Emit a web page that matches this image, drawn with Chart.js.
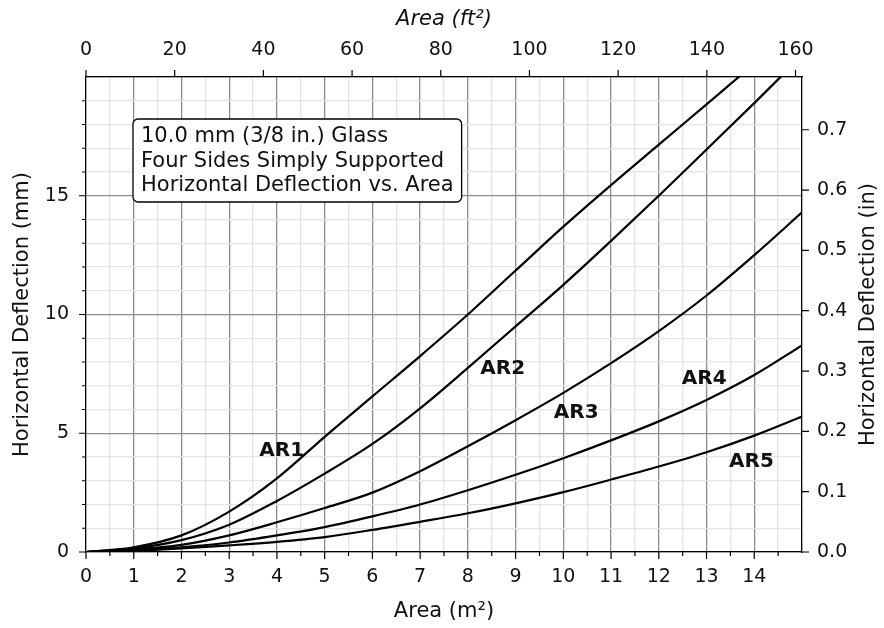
<!DOCTYPE html>
<html>
<head>
<meta charset="utf-8">
<title>Horizontal Deflection vs. Area</title>
<script src="https://cdn.jsdelivr.net/npm/chart.js@4.4.1/dist/chart.umd.min.js"></script>
<style>
  html, body { margin: 0; padding: 0; background: #fff; }
  #wrap { width: 884px; height: 628px; }
</style>
</head>
<body>
<div id="wrap"><canvas id="deflectionChart" width="884" height="628"></canvas></div>
<script>
// values (area in m2, deflection in mm)
const areaM2 = [0, 1, 2, 3, 4, 5, 6, 7, 8, 9, 10, 11, 12, 13, 14, 15];
const ar1 = [0, 0.2, 0.7, 1.7, 3.1, 4.85, 6.55, 8.25, 10.0, 11.85, 13.7, 15.45, 17.15, 18.85, 20.55, 22.2];
const ar2 = [0, 0.15, 0.5, 1.15, 2.15, 3.3, 4.55, 6.05, 7.75, 9.5, 11.25, 13.1, 15.0, 16.95, 18.9, 20.9];
const ar3 = [0, 0.1, 0.3, 0.7, 1.25, 1.85, 2.5, 3.4, 4.45, 5.55, 6.7, 7.95, 9.3, 10.8, 12.5, 14.3];
const ar4 = [0, 0.07, 0.2, 0.4, 0.7, 1.05, 1.5, 2.0, 2.6, 3.25, 3.95, 4.7, 5.5, 6.4, 7.45, 8.7];
const ar5 = [0, 0.05, 0.15, 0.28, 0.43, 0.63, 0.93, 1.27, 1.63, 2.05, 2.52, 3.05, 3.6, 4.2, 4.9, 5.7];

// curve labels and where they sit (data units)
const curveNames = ['AR1', 'AR2', 'AR3', 'AR4', 'AR5'];
const labelArea = [4.1, 8.73, 10.27, 12.95, 13.94];
const labelDefl = [4.25, 7.7, 5.85, 7.28, 3.79];

const boxLines = ['10.0 mm (3/8 in.) Glass', 'Four Sides Simply Supported', 'Horizontal Deflection vs. Area'];

const M2_TO_FT2 = 10.7639;
const MM_PER_IN = 25.4;
const X_MAX = 15;
const Y_MAX = 20;

const FONT = 'DejaVu Sans';
const TICK_SIZE = 19;
const TITLE_SIZE = 21;
const MAJOR_GRID = '#8c8c8c';
const MINOR_GRID = '#e4e4e4';

Chart.defaults.font.family = FONT;
Chart.defaults.font.size = TICK_SIZE;
Chart.defaults.color = '#111';

function toPoints(ys) {
  return areaM2.map((a, i) => ({ x: a, y: ys[i] }));
}

const series = [ar1, ar2, ar3, ar4, ar5];

// tick marks (long for major, short for minor) drawn from the scales
const tickMarks = {
  id: 'tickMarks',
  afterDraw(chart) {
    const { ctx } = chart;
    const { x, x2, y, y2 } = chart.scales;
    ctx.save();
    ctx.strokeStyle = '#000';
    ctx.lineWidth = 1.2;
    ctx.beginPath();
    x.ticks.forEach(t => {
      if (t.value >= X_MAX) return;
      const px = x.getPixelForValue(t.value);
      const len = Number.isInteger(t.value) ? 7 : 4;
      ctx.moveTo(px, x.top); ctx.lineTo(px, x.top + len);
    });
    x2.ticks.forEach(t => {
      const px = x2.getPixelForValue(t.value);
      ctx.moveTo(px, x2.bottom); ctx.lineTo(px, x2.bottom - 7);
    });
    y.ticks.forEach(t => {
      if (t.value >= Y_MAX) return;
      const py = y.getPixelForValue(t.value);
      const len = t.value % 5 === 0 ? 7 : 4;
      ctx.moveTo(y.right, py); ctx.lineTo(y.right - len, py);
    });
    y2.ticks.forEach(t => {
      const py = y2.getPixelForValue(t.value);
      ctx.moveTo(y2.left, py); ctx.lineTo(y2.left + 7, py);
    });
    ctx.stroke();

    // right axis title, reading upwards like the left one
    ctx.fillStyle = '#111';
    ctx.font = TITLE_SIZE + 'px "' + FONT + '"';
    ctx.textAlign = 'center';
    ctx.textBaseline = 'middle';
    ctx.translate(y2.right - 15, (chart.chartArea.top + chart.chartArea.bottom) / 2);
    ctx.rotate(-Math.PI / 2);
    ctx.fillText('Horizontal Deflection (in)', 0, 0);
    ctx.restore();
  }
};

// curve labels and the info box
const annotations = {
  id: 'annotations',
  afterDatasetsDraw(chart) {
    const { ctx, chartArea } = chart;
    const { x, y } = chart.scales;
    ctx.save();
    ctx.fillStyle = '#111';
    ctx.font = 'bold 20px "' + FONT + '"';
    ctx.textAlign = 'center';
    ctx.textBaseline = 'middle';
    curveNames.forEach((name, i) => {
      ctx.fillText(name, x.getPixelForValue(labelArea[i]), y.getPixelForValue(labelDefl[i]));
    });

    ctx.font = TITLE_SIZE + 'px "' + FONT + '"';
    const widths = boxLines.map(s => ctx.measureText(s).width);
    const bx = chartArea.left + 47;
    const by = chartArea.top + 42;
    const bw = Math.max(...widths) + 16;
    const bh = 83;
    ctx.beginPath();
    ctx.roundRect(bx, by, bw, bh, 5);
    ctx.fillStyle = '#fff';
    ctx.fill();
    ctx.strokeStyle = '#000';
    ctx.lineWidth = 1.3;
    ctx.stroke();
    ctx.fillStyle = '#111';
    ctx.textAlign = 'left';
    ctx.textBaseline = 'alphabetic';
    boxLines.forEach((s, i) => ctx.fillText(s, bx + 8, by + 23 + i * 24.5));
    ctx.restore();
  }
};

new Chart(document.getElementById('deflectionChart'), {
  type: 'line',
  data: {
    datasets: series.map((ys, i) => ({
      label: curveNames[i],
      data: toPoints(ys),
      borderColor: '#000',
      borderWidth: 2.2,
      pointRadius: 0,
      fill: false,
      cubicInterpolationMode: 'monotone',
      clip: 0,
      xAxisID: 'x',
      yAxisID: 'y'
    }))
  },
  options: {
    responsive: false,
    animation: false,
    layout: { padding: 0 },
    plugins: {
      legend: { display: false },
      tooltip: { enabled: false }
    },
    scales: {
      x: {
        type: 'linear',
        position: 'bottom',
        min: 0,
        max: X_MAX,
        afterFit: s => { s.height = 76; },
        ticks: {
          stepSize: 0.5,
          autoSkip: false,
          maxRotation: 0,
          padding: 14,
          callback: v => (Number.isInteger(v) && v < X_MAX ? v : '')
        },
        grid: {
          drawTicks: false,
          color: c => (Number.isInteger(c.tick.value) ? MAJOR_GRID : MINOR_GRID),
          lineWidth: 1.3
        },
        border: { color: '#000', width: 1.2 },
        title: { display: true, text: 'Area (m²)', font: { size: TITLE_SIZE }, padding: { top: 0, bottom: 4 } }
      },
      x2: {
        type: 'linear',
        position: 'top',
        min: 0,
        max: X_MAX * M2_TO_FT2,
        afterFit: s => { s.height = 77; },
        ticks: { stepSize: 20, includeBounds: false, maxRotation: 0, padding: 16 },
        grid: { drawOnChartArea: false, drawTicks: false },
        border: { color: '#000', width: 1.2 },
        title: { display: true, text: 'Area (ft²)', font: { size: TITLE_SIZE, style: 'italic' }, padding: { top: 7, bottom: 0 } }
      },
      y: {
        type: 'linear',
        position: 'left',
        min: 0,
        max: Y_MAX,
        afterFit: s => { s.width = 86; },
        ticks: {
          stepSize: 1,
          autoSkip: false,
          padding: 17,
          callback: v => (v % 5 === 0 && v < Y_MAX ? v : '')
        },
        grid: {
          drawTicks: false,
          color: c => (c.tick.value % 5 === 0 ? MAJOR_GRID : MINOR_GRID),
          lineWidth: 1.3
        },
        border: { color: '#000', width: 1.2 },
        title: { display: true, text: 'Horizontal Deflection (mm)', font: { size: TITLE_SIZE }, padding: { top: 10, bottom: 0 } }
      },
      y2: {
        type: 'linear',
        position: 'right',
        min: 0,
        max: Y_MAX / MM_PER_IN,
        afterFit: s => { s.width = 82; },
        ticks: {
          stepSize: 0.1,
          includeBounds: false,
          padding: 15,
          callback: v => v.toFixed(1)
        },
        grid: { drawOnChartArea: false, drawTicks: false },
        border: { color: '#000', width: 1.2 }
      }
    }
  },
  plugins: [tickMarks, annotations]
});
</script>
</body>
</html>
